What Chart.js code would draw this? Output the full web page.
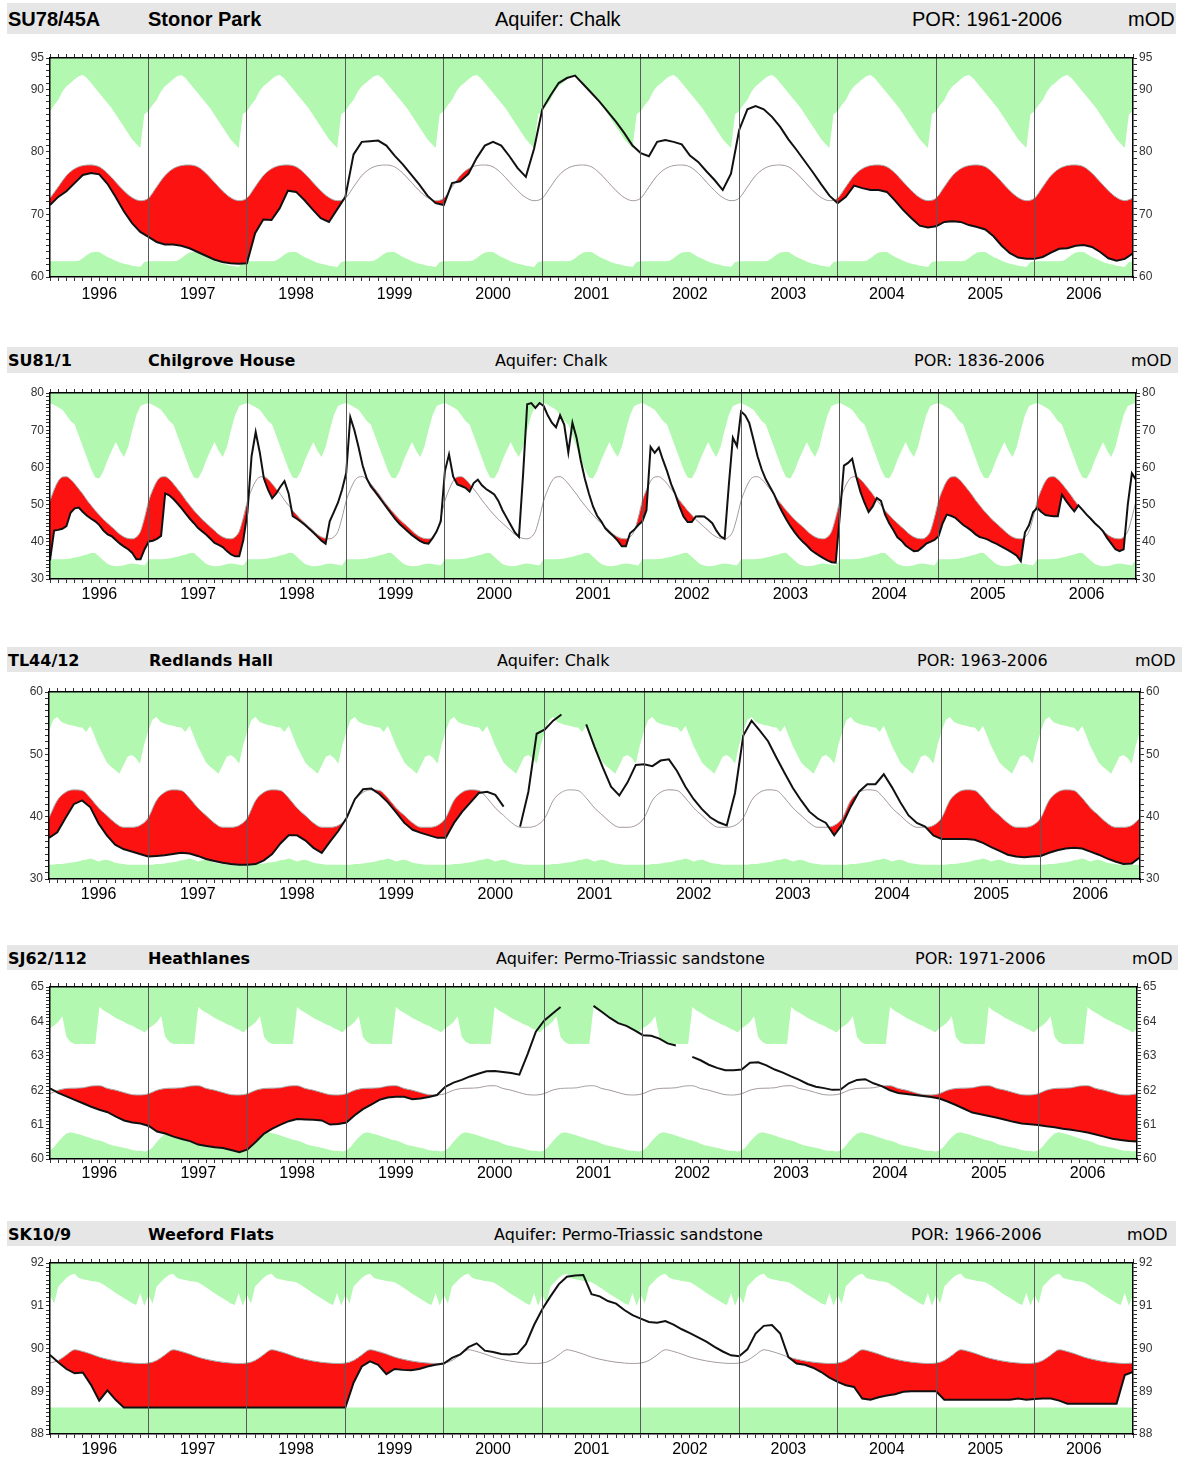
<!DOCTYPE html>
<html lang="en">
<head>
<meta charset="UTF-8" />
<title>Groundwater levels 1996-2006</title>
<script src="https://cdn.jsdelivr.net/npm/chart.js"></script>
<style>
  body { margin: 0; width: 1184px; height: 1458px; position: relative; overflow: hidden; background: #fff;
         font-family: "Liberation Sans", Arial, sans-serif; }
  .hdr { position: absolute; left: 7px; background: #e6e6e6; }
  .hdr span { position: absolute; top: 50%; transform: translateY(-50%); white-space: nowrap; color: #000;
              font-family: "DejaVu Sans", sans-serif; font-size: 16px; }
  .hdr.big span { font-family: "Liberation Sans", Arial, sans-serif; font-size: 20px; }
  .hdr span.b { font-weight: bold; }
  canvas { position: absolute; left: 0; }
</style>
</head>
<body>
  <div class="hdr big" style="top:3px;width:1169px;height:31px">
    <span class="b" style="left:1px">SU78/45A</span>
    <span class="b" style="left:141px">Stonor Park</span>
    <span style="left:488px">Aquifer: Chalk</span>
    <span style="left:905px">POR: 1961-2006</span>
    <span style="left:1121px">mOD</span>
  </div>
  <canvas id="c1" width="1184" height="255" style="top:48px"></canvas>

  <div class="hdr" style="top:347px;width:1171px;height:26px">
    <span class="b" style="left:1px">SU81/1</span>
    <span class="b" style="left:141px">Chilgrove House</span>
    <span style="left:488px">Aquifer: Chalk</span>
    <span style="left:907px">POR: 1836-2006</span>
    <span style="left:1124px">mOD</span>
  </div>
  <canvas id="c2" width="1184" height="222" style="top:383px"></canvas>

  <div class="hdr" style="top:647px;width:1175px;height:25px">
    <span class="b" style="left:1px">TL44/12</span>
    <span class="b" style="left:142px">Redlands Hall</span>
    <span style="left:490px">Aquifer: Chalk</span>
    <span style="left:910px">POR: 1963-2006</span>
    <span style="left:1128px">mOD</span>
  </div>
  <canvas id="c3" width="1184" height="223" style="top:682px"></canvas>

  <div class="hdr" style="top:945px;width:1171px;height:25px">
    <span class="b" style="left:1px">SJ62/112</span>
    <span class="b" style="left:141px">Heathlanes</span>
    <span style="left:489px">Aquifer: Permo-Triassic sandstone</span>
    <span style="left:908px">POR: 1971-2006</span>
    <span style="left:1125px">mOD</span>
  </div>
  <canvas id="c4" width="1184" height="208" style="top:977px"></canvas>

  <div class="hdr" style="top:1221px;width:1169px;height:25px">
    <span class="b" style="left:1px">SK10/9</span>
    <span class="b" style="left:141px">Weeford Flats</span>
    <span style="left:487px">Aquifer: Permo-Triassic sandstone</span>
    <span style="left:904px">POR: 1966-2006</span>
    <span style="left:1120px">mOD</span>
  </div>
  <canvas id="c5" width="1184" height="207" style="top:1253px"></canvas>

<script>
// x axis: months since start of 1996 (0..132), one label per year
const years = ['1996', '1997', '1998', '1999', '2000', '2001', '2002', '2003', '2004', '2005', '2006'];

// ---- SU78/45A Stonor Park (monthly observed, mOD)
const stonorTicks = [60, 70, 80, 90, 95];
const stonorMax = [86.5, 87.5, 88.3, 89.6, 90.5, 91.0, 91.6, 92.1, 92.3, 91.8, 91.0, 90.2,
                   89.4, 88.6, 87.8, 87.0, 86.0, 85.0, 84.0, 83.0, 82.0, 81.3, 80.6, 86.0];
const stonorMin = [62.5, 62.5, 62.5, 62.5, 62.5, 62.5, 62.5, 62.6, 63.0, 63.5, 63.9, 64.0,
                   64.0, 63.6, 63.2, 62.9, 62.6, 62.3, 62.1, 62.0, 61.8, 61.7, 61.6, 62.4];
const stonorAvg = [72.6, 74.4, 76.2, 77.3, 77.8, 77.9, 77.6, 76.6, 75.2, 73.8, 72.7, 72.2];
const stonorObs = [
  71.5, 72.8, 73.7, 75.0, 76.3, 76.6, 76.4, 74.9, 72.8, 70.5, 68.6, 67.2,
  66.4, 65.6, 65.2, 65.2, 65.0, 64.6, 64.0, 63.4, 62.8, 62.4, 62.2, 62.1,
  62.2, 67.0, 69.2, 69.1, 71.0, 73.8, 73.6, 72.3, 70.8, 69.4, 68.8, 70.8,
  72.8, 79.6, 81.6, 81.7, 81.8, 81.0, 79.4, 78.0, 76.4, 74.8, 73.0, 71.8,
  71.5, 75.0, 75.3, 76.5, 79.0, 81.0, 81.6, 81.0, 79.3, 77.4, 76.0, 80.5,
  86.8, 89.0, 91.0, 91.8, 92.2, 90.8, 89.4, 88.0, 86.4, 84.8, 83.0, 81.0,
  79.8, 79.3, 81.6, 81.9, 81.6, 81.2, 79.4, 78.4, 76.9, 75.5, 73.9, 76.5,
  83.5, 86.8, 87.3, 86.8, 85.6, 84.0, 82.0, 80.3, 78.5, 76.7, 74.8, 73.0,
  71.8, 72.8, 74.6, 74.2, 73.9, 73.9, 73.6, 72.2, 70.7, 69.4, 68.2, 67.9,
  68.1, 68.8, 68.9, 68.8, 68.3, 68.0, 67.6, 66.5, 65.0, 63.8, 63.1, 62.9,
  62.9, 63.2, 63.9, 64.5, 64.6, 65.0, 65.1, 64.8, 64.0, 63.0, 62.6, 62.9, 63.8
];

// ---- SU81/1 Chilgrove House (half-monthly observed)
const chilTicks = [30, 40, 50, 60, 70, 80];
const chilMax = [77.3, 76.8, 76.2, 75.5, 74.0, 72.5, 71.5, 68.5, 65.5, 62.5, 59.5, 57.3,
                 57.0, 59.0, 62.0, 64.5, 66.8, 64.5, 62.8, 65.5, 70.0, 74.0, 76.5, 77.0];
const chilMin = [35.3, 35.3, 35.3, 35.3, 35.4, 35.5, 35.8, 36.0, 36.3, 36.6, 37.0, 37.0,
                 36.0, 35.0, 34.0, 33.6, 33.4, 33.5, 33.7, 34.0, 34.2, 34.0, 33.8, 33.6];
const chilAvg = [51.0, 54.0, 56.3, 57.4, 57.5, 56.8, 55.6, 54.2, 52.8, 51.2, 49.8, 48.4,
                 47.2, 46.0, 45.0, 44.0, 43.0, 42.0, 41.3, 40.9, 40.8, 41.3, 42.8, 46.5];
const chilObs = [
  35.0, 43.0, 43.2, 43.5, 44.2, 47.8, 49.0, 49.2, 48.0, 47.0, 46.2, 45.5, 44.5, 43.0, 42.0, 41.5, 40.5, 39.5, 38.7, 38.0, 37.0, 35.3, 35.3, 38.0,
  40.1, 40.3, 40.8, 41.6, 53.0, 52.5, 51.5, 50.3, 49.0, 47.6, 46.2, 45.0, 43.7, 42.8, 41.9, 40.8, 39.7, 39.2, 38.6, 37.5, 36.6, 36.1, 36.1, 40.5,
  48.0, 63.0, 69.5, 64.0, 57.0, 54.0, 51.7, 53.0, 54.8, 56.3, 53.0, 46.9, 46.2, 45.4, 44.5, 43.5, 42.5, 41.4, 40.3, 39.5, 45.5, 48.0, 50.5, 54.0,
  58.5, 73.5, 70.0, 65.5, 60.5, 57.0, 54.9, 53.5, 52.0, 50.5, 49.0, 47.5, 46.0, 44.8, 43.8, 42.8, 41.8, 41.0, 40.2, 39.7, 39.5, 41.0, 42.8, 45.5,
  59.0, 63.5, 57.6, 55.4, 55.0, 54.5, 53.5, 55.8, 56.7, 55.2, 54.2, 53.5, 52.7, 51.0, 48.5, 46.5, 44.5, 42.5, 41.3, 58.0, 77.0, 77.3, 76.0, 77.3,
  76.5, 74.0, 72.0, 70.8, 74.0, 71.5, 64.0, 72.0, 68.0, 62.0, 57.0, 53.0, 49.5, 47.0, 45.5, 43.6, 42.5, 41.5, 40.3, 38.8, 38.8, 42.3, 43.2, 44.5,
  45.5, 48.5, 65.5, 63.9, 65.3, 62.0, 59.0, 55.5, 52.8, 49.5, 46.8, 45.3, 45.3, 46.8, 46.9, 46.8, 46.0, 45.0, 43.0, 41.5, 40.8, 55.0, 68.0, 65.7,
  75.0, 74.0, 71.9, 67.5, 63.0, 59.5, 56.8, 54.8, 52.8, 50.2, 48.0, 46.0, 44.2, 42.6, 41.2, 40.0, 39.0, 37.8, 37.0, 36.3, 35.6, 35.0, 34.5, 34.4,
  47.0, 60.5, 61.2, 62.3, 57.5, 53.5, 50.5, 48.0, 49.5, 51.8, 51.0, 47.3, 45.0, 43.2, 41.2, 40.3, 39.0, 38.2, 37.5, 37.6, 38.5, 39.5, 40.0, 40.5,
  41.5, 45.0, 47.3, 47.0, 46.5, 45.5, 44.5, 43.8, 43.0, 42.0, 41.3, 41.0, 40.6, 40.0, 39.5, 38.9, 38.3, 37.7, 37.0, 36.3, 34.8, 42.5, 44.5, 48.0,
  49.1, 48.0, 47.2, 47.0, 46.9, 46.9, 52.7, 51.0, 49.5, 48.2, 49.8, 48.6, 47.3, 46.2, 45.0, 44.0, 42.8, 41.0, 39.5, 38.0, 37.5, 38.0, 50.0, 58.4, 56.7
];

// ---- TL44/12 Redlands Hall (monthly, gaps as null)
const redTicks = [30, 40, 50, 60];
const redMax = [53.7, 55.5, 56.0, 55.2, 54.9, 54.7, 54.6, 54.4, 54.3, 53.6, 54.6, 53.0,
                51.3, 50.0, 48.7, 48.0, 47.5, 46.9, 48.2, 49.6, 49.9, 49.4, 48.5, 51.5];
const redMin = [32.3, 32.3, 32.4, 32.4, 32.5, 32.6, 32.7, 32.8, 33.0, 33.1, 33.3, 33.1,
                32.8, 33.0, 33.1, 32.9, 32.6, 32.5, 32.4, 32.3, 32.3, 32.3, 32.3, 32.3];
const redAvg = [39.8, 42.6, 43.9, 44.3, 44.2, 43.0, 41.4, 40.2, 39.0, 38.3, 38.3, 38.6];
const redObs = [
  36.6, 37.5, 39.8, 42.0, 42.6, 41.5, 38.9, 37.0, 35.5, 34.8, 34.4, 34.0,
  33.6, 33.7, 33.8, 34.0, 34.2, 34.1, 33.7, 33.2, 32.9, 32.6, 32.4, 32.3,
  32.3, 32.4, 33.0, 34.0, 35.7, 37.0, 37.0, 36.2, 35.0, 34.2, 36.0, 37.7,
  39.8, 42.8, 44.4, 44.5, 43.6, 42.3, 40.7, 39.0, 37.9, 37.4, 37.0, 36.6,
  36.6, 39.0, 40.8, 42.3, 43.8, 44.0, 43.5, 41.6, null, 38.4, 44.0, 53.3,
  54.0, 55.4, 56.4, null, null, 54.8, 51.2, 47.9, 44.8, 43.4, 45.5, 48.3,
  48.4, 48.1, 49.0, 49.2, 47.3, 44.8, 42.8, 41.2, 39.9, 39.1, 38.6, 43.8,
  53.0, 55.4, 53.8, 52.1, 49.5, 47.0, 44.6, 42.6, 40.8, 39.7, 39.0, 37.0,
  38.8, 41.6, 44.0, 45.2, 45.2, 46.8, 44.7, 42.3, 40.2, 39.0, 38.4, 37.0,
  36.4, 36.4, 36.4, 36.4, 36.3, 35.8, 35.1, 34.5, 33.9, 33.6, 33.5, 33.6,
  33.7, 34.2, 34.6, 34.9, 35.0, 34.9, 34.4, 33.9, 33.3, 32.8, 32.4, 32.5, 33.5
];

// ---- SJ62/112 Heathlanes (monthly, gaps as null)
const heathTicks = [60, 61, 62, 63, 64, 65];
const heathMax = [63.80, 63.88, 63.98, 64.15, 63.55, 63.40, 63.34, 63.34, 63.35, 63.34, 63.34, 63.34,
                  64.42, 64.32, 64.25, 64.18, 64.10, 64.04, 63.98, 63.92, 63.87, 63.80, 63.75, 63.68];
const heathMin = [60.25, 60.35, 60.50, 60.63, 60.74, 60.78, 60.75, 60.72, 60.68, 60.64, 60.60, 60.56,
                  60.54, 60.50, 60.44, 60.40, 60.38, 60.35, 60.33, 60.30, 60.26, 60.24, 60.24, 60.22];
const heathAvg = [61.90, 62.00, 62.05, 62.06, 62.07, 62.12, 62.13, 62.05, 62.00, 61.93, 61.87, 61.86];
const heathObs = [
  62.05, 61.92, 61.82, 61.72, 61.62, 61.52, 61.43, 61.36, 61.23, 61.12, 61.06, 61.03,
  60.96, 60.80, 60.74, 60.65, 60.58, 60.52, 60.42, 60.38, 60.34, 60.32, 60.26, 60.20,
  60.28, 60.50, 60.74, 60.88, 61.00, 61.10, 61.16, 61.15, 61.14, 61.12, 61.00, 61.02,
  61.06, 61.27, 61.45, 61.58, 61.72, 61.79, 61.81, 61.81, 61.74, 61.76, 61.80, 61.86,
  62.10, 62.22, 62.30, 62.40, 62.48, 62.55, 62.56, 62.53, 62.50, 62.45, 63.05, 63.70,
  64.02, 64.22, 64.42, null, null, null, 64.45, 64.28, 64.10, 63.95, 63.87, 63.74,
  63.60, 63.58, 63.50, 63.36, 63.30, null, 62.97, 62.87, 62.74, 62.65, 62.58, 62.58,
  62.60, 62.80, 62.81, 62.72, 62.60, 62.51, 62.40, 62.30, 62.18, 62.10, 62.06, 62.01,
  62.02, 62.20, 62.30, 62.32, 62.20, 62.12, 62.00, 61.92, 61.89, 61.86, 61.83, 61.80,
  61.76, 61.67, 61.57, 61.46, 61.35, 61.30, 61.25, 61.20, 61.14, 61.08, 61.03, 61.01,
  60.99, 60.95, 60.92, 60.88, 60.85, 60.81, 60.77, 60.71, 60.65, 60.59, 60.55, 60.52, 60.51
];

// ---- SK10/9 Weeford Flats (monthly)
const weefTicks = [88, 89, 90, 91, 92];
const weefMax = [91.25, 91.05, 91.45, 91.55, 91.65, 91.72, 91.75, 91.65, 91.62, 91.60, 91.58, 91.57,
                 91.55, 91.50, 91.43, 91.37, 91.30, 91.24, 91.18, 91.12, 91.06, 91.02, 91.30, 91.00];
const weefMin = [88.62, 88.62, 88.62, 88.62, 88.62, 88.62, 88.62, 88.62, 88.62, 88.62, 88.62, 88.62];
const weefAvg = [89.66, 89.72, 89.85, 89.97, 89.93, 89.87, 89.80, 89.75, 89.71, 89.68, 89.66, 89.65];
const weefObs = [
  89.85, 89.68, 89.52, 89.42, 89.44, 89.15, 88.78, 89.02, 88.80, 88.62, 88.62, 88.62,
  88.62, 88.62, 88.62, 88.62, 88.62, 88.62, 88.62, 88.62, 88.62, 88.62, 88.62, 88.62,
  88.62, 88.62, 88.62, 88.62, 88.62, 88.62, 88.62, 88.62, 88.62, 88.62, 88.62, 88.62,
  88.62, 89.20, 89.58, 89.70, 89.62, 89.40, 89.52, 89.50, 89.49, 89.52, 89.58, 89.62,
  89.65, 89.78, 89.86, 90.03, 90.12, 89.95, 89.92, 89.87, 89.86, 89.88, 90.10, 90.55,
  90.92, 91.22, 91.50, 91.68, 91.71, 91.72, 91.27, 91.22, 91.11, 91.05, 90.90, 90.78,
  90.70, 90.62, 90.60, 90.64, 90.56, 90.45, 90.36, 90.26, 90.16, 90.04, 89.93, 89.84,
  89.82, 89.98, 90.35, 90.53, 90.55, 90.35, 89.80, 89.65, 89.62, 89.55, 89.45, 89.32,
  89.22, 89.14, 89.10, 88.83, 88.80, 88.86, 88.90, 88.93, 88.99, 89.00, 89.00, 89.00,
  89.00, 88.80, 88.80, 88.80, 88.80, 88.80, 88.80, 88.80, 88.80, 88.80, 88.83, 88.80,
  88.82, 88.83, 88.83, 88.78, 88.71, 88.71, 88.71, 88.71, 88.71, 88.71, 88.71, 89.38, 89.45
];

const GREEN = '#b3f8b1';
const RED = '#fd1212';

Chart.defaults.font.family = '"Liberation Sans", Arial, sans-serif';

// one year of a long-term statistic, laid out for every year of the record
function everyYear(tpl) {
  const step = 12 / tpl.length;
  const pts = [];
  for (let y = 0; y < years.length; y++) {
    tpl.forEach((v, k) => pts.push({ x: y * 12 + k * step, y: v }));
  }
  pts.push({ x: years.length * 12, y: tpl[0] });
  return pts;
}

function series(vals, step) {
  return vals.map((v, i) => ({ x: i * step, y: v }));
}

function makePanel(p) {
  const labelOf = (v) => {
    const t = p.ticks.find((t) => Math.abs(t - v) < 1e-6);
    return t === undefined ? '' : String(t);
  };
  const border = { display: true, color: '#000', width: 1.5, z: 1 };
  const yAxis = (pos, w) => ({
    type: 'linear', position: pos, min: p.min, max: p.max,
    afterFit: (s) => { s.width = w; },
    border: border,
    grid: { drawOnChartArea: false, tickLength: 4, tickColor: '#333', z: 1 },
    ticks: { stepSize: p.step, autoSkip: false, padding: 2, color: '#333', font: { size: 12 }, callback: labelOf }
  });

  new Chart(document.getElementById(p.id), {
    type: 'line',
    data: {
      datasets: [
        { data: series(p.obs, p.obsStep), borderColor: '#111', borderWidth: 2, pointRadius: 0,
          fill: { target: 1, above: 'rgba(0,0,0,0)', below: RED } },
        { data: everyYear(p.avg), borderColor: '#a4a4a4', borderWidth: 1, pointRadius: 0,
          fill: false, cubicInterpolationMode: 'monotone' },
        { data: everyYear(p.hi), borderColor: 'rgba(0,0,0,0)', borderWidth: 0, pointRadius: 0,
          fill: 'end', backgroundColor: GREEN },
        { data: everyYear(p.lo), borderColor: 'rgba(0,0,0,0)', borderWidth: 0, pointRadius: 0,
          fill: 'start', backgroundColor: GREEN }
      ]
    },
    options: {
      responsive: false,
      animation: false,
      events: [],
      layout: { padding: 0, autoPadding: false },
      plugins: {
        legend: { display: false },
        tooltip: { enabled: false },
        filler: { drawTime: 'beforeDatasetsDraw' }
      },
      scales: {
        x: {
          type: 'linear', position: 'bottom', min: 0, max: 132,
          afterFit: (s) => { s.height = 26; },
          border: border,
          grid: {
            z: 1,
            color: (c) => (c.tick && c.tick.value % 12 === 0 && c.tick.value > 0 && c.tick.value < 132) ? '#5a5a5a' : 'rgba(0,0,0,0)',
            tickColor: '#333', tickLength: 4
          },
          ticks: {
            stepSize: 1, autoSkip: false, maxRotation: 0, minRotation: 0, padding: p.labPad,
            color: '#000', font: { size: 16 },
            callback: (v) => (v % 12 === 6 ? years[(v - 6) / 12] : '')
          }
        },
        xt: {
          type: 'linear', position: 'top', min: 0, max: 132,
          afterFit: (s) => { s.height = 10; },
          border: border,
          grid: { drawOnChartArea: false, tickLength: 4, tickColor: '#333', z: 1 },
          ticks: { stepSize: 1, autoSkip: false, display: false }
        },
        y: yAxis('left', p.left),
        yr: yAxis('right', 1184 - p.right)
      }
    }
  });
}

makePanel({ id: 'c1', left: 50, right: 1133, min: 60, max: 95, step: 1, ticks: stonorTicks, labPad: 4,
            hi: stonorMax, lo: stonorMin, avg: stonorAvg, obs: stonorObs, obsStep: 1 });
makePanel({ id: 'c2', left: 50, right: 1136, min: 30, max: 80, step: 1, ticks: chilTicks, labPad: 2,
            hi: chilMax, lo: chilMin, avg: chilAvg, obs: chilObs, obsStep: 0.5 });
makePanel({ id: 'c3', left: 49, right: 1140, min: 30, max: 60, step: 1, ticks: redTicks, labPad: 2,
            hi: redMax, lo: redMin, avg: redAvg, obs: redObs, obsStep: 1 });
makePanel({ id: 'c4', left: 50, right: 1137, min: 60, max: 65, step: 0.1, ticks: heathTicks, labPad: 1,
            hi: heathMax, lo: heathMin, avg: heathAvg, obs: heathObs, obsStep: 1 });
makePanel({ id: 'c5', left: 50, right: 1133, min: 88, max: 92, step: 0.1, ticks: weefTicks, labPad: 2,
            hi: weefMax, lo: weefMin, avg: weefAvg, obs: weefObs, obsStep: 1 });
</script>
</body>
</html>
